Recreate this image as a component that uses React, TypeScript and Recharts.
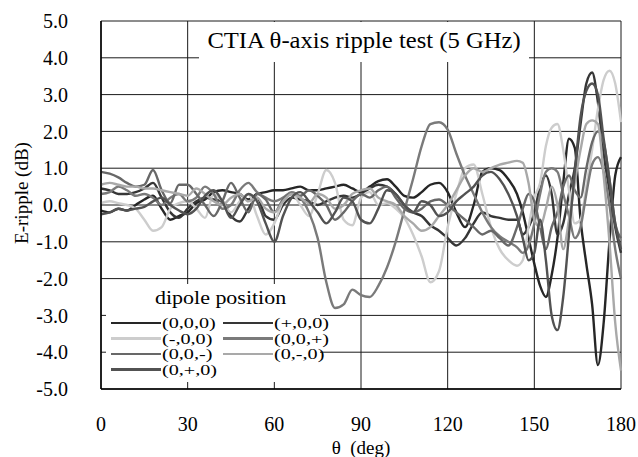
import React from 'react';
import { LineChart, Line, XAxis, YAxis, CartesianGrid } from 'recharts';

// theta samples (deg); denser near 180 where the ripple is sharp
const theta = [
  0, 3, 6, 9, 12, 15, 18, 21, 24, 27, 30, 33, 36, 39, 42, 45, 48, 51, 54, 57,
  60, 63, 66, 69, 72, 75, 78, 81, 84, 87, 90, 93, 96, 99, 102, 105, 108, 111, 114, 117,
  120, 123, 126, 129, 132, 135, 138, 141,
  144, 146, 148, 150, 152, 154, 156, 158, 160, 162, 164, 166, 168, 170, 172, 174, 176, 178, 180,
];

const s000 = [
  -0.15, -0.2, -0.1, -0.15, 0.0, 0.15, 0.25, -0.1, -0.4, -0.3,
  -0.2, 0.05, 0.15, 0.35, 0.4, 0.35, 0.3, 0.15, 0.3, 0.35,
  0.4, 0.4, 0.45, 0.5, 0.4, 0.4, 0.45, 0.5, 0.55, 0.45,
  0.35, 0.5, 0.65, 0.7, 0.5, 0.25, 0.2, 0.35, 0.55, 0.6,
  0.35, -0.2, -0.6, 0.0, 0.9, 1.0, 0.95, 0.7,
  0.3, -0.2, -0.9, -1.6, -2.2, -2.5, -1.9, -0.9, 0.6, 1.8, 1.55, -0.4, -1.6, -2.7, -4.35, -3.2, -1.0, 0.8, 1.3,
];
const sp00 = [
  0.45, 0.4, 0.3, 0.3, 0.35, 0.45, 0.6, 0.2, -0.2, -0.35,
  -0.1, 0.1, 0.2, 0.15, 0.1, -0.3, -0.45, -0.1, 0.2, -0.3,
  -0.4, 0.0, 0.2, 0.15, 0.1, 0.0, 0.1, 0.2, 0.25, 0.2,
  0.3, 0.45, 0.55, 0.5, 0.3, 0.0, -0.2, -0.3, -0.55, -0.7,
  -0.9, -1.1, -0.9, -0.5, -0.2, -0.3, -0.35, -0.4,
  -0.4, -0.8, -0.6, -0.2, 0.5, 0.8, 0.3, -0.8, -0.5, 0.3, 1.0, 2.2, 3.3, 3.6, 2.8, 1.4, 0.4, -0.6, -1.3,
];
const sm00 = [
  0.05, 0.1, 0.05, 0.0, -0.1, -0.4, -0.7, -0.6, -0.1, 0.05,
  0.1, -0.1, -0.35, 0.3, 0.1, -0.2, 0.1, 0.3, -0.3, -0.8,
  -0.5, 0.1, 0.3, 0.0, -0.3, 0.3, 0.95, 0.6, -0.4, -0.55,
  0.2, 0.35, 0.0, 0.05, -0.1, -0.35, -0.8, -1.4, -2.1, -1.8,
  -0.6, 0.3, 1.0, 1.1, 0.3, -0.6, -1.2, -1.5,
  -1.65, -1.5, -0.6, 0.2, 0.6, 1.6, 2.1, 2.2, 1.5, 0.4, -0.5, -0.4, 0.5, 1.5, 2.6, 3.4, 3.65, 3.3, 2.25,
];
const s00p = [
  0.3, 0.35, 0.5, 0.4, 0.25, 0.3, 0.2, 0.0, 0.2, 0.3,
  0.1, 0.2, 0.5, 0.3, -0.1, 0.0, 0.4, 0.6, 0.35, 0.2,
  0.1, 0.2, 0.35, 0.2, -0.2, -0.9, -2.1, -2.8, -2.7, -2.3,
  -2.45, -2.5, -2.2, -1.7, -1.0, -0.15, 0.7, 1.6, 2.2, 2.25,
  2.05, 1.4, 0.8, 0.3, -0.2, -0.6, -0.85, -1.0,
  -1.15, -1.3, -1.1, -0.5, 0.3, 0.9, 1.0, 0.9, 0.3, -0.3, -0.9, -0.6, 0.3, 1.1, 1.3, 0.9, 0.0, -1.2, -2.0,
];
const s00m = [
  0.9, 0.85, 0.75, 0.6, 0.5, 0.55, 0.95, 0.4, 0.05, 0.55,
  0.55, 0.3, 0.0, -0.3, 0.1, 0.6, 0.2, -0.2, 0.3, 0.15,
  -0.2, 0.15, 0.3, 0.25, 0.4, 0.25, 0.0, -0.4, -0.2, 0.1,
  0.3, 0.2, 0.4, 0.5, 0.2, -0.1, -0.2, -0.1, 0.1, 0.15,
  0.0, -0.2, -0.4, -0.6, -0.8, -0.7, -0.9, -1.1,
  -0.6, -0.1, 0.3, 0.1, -0.6, -1.2, -0.6, -0.2, 0.5, 0.8, 0.4, 0.2, 1.0, 1.7, 2.0, 1.7, 0.7, -0.5, -0.9,
];
const s0m0 = [
  0.55, 0.6, 0.55, 0.5, 0.5, 0.45, 0.45, 0.4, 0.35, 0.3,
  0.25, 0.45, 0.3, 0.1, 0.0, 0.2, 0.3, 0.1, 0.2, -0.1,
  -0.2, 0.1, 0.3, 0.2, 0.05, 0.3, 0.2, -0.1, 0.0, 0.3,
  0.4, 0.45, 0.2, 0.1, 0.0, -0.3, -0.5, -0.7, -0.6, -0.3,
  0.0, 0.4, 0.8, 1.0, 0.9, 1.0, 1.1, 1.15,
  1.2, 1.15, 0.6, -0.4, -0.6, -0.1, 0.5, 0.0, -1.2, -0.4, 0.6, 1.5, 2.2, 2.3, 2.2, 0.8, -1.0, -3.2, -4.5,
];
const s0p0 = [
  -0.25, -0.2, -0.1, -0.15, -0.1, -0.05, 0.1, 0.2, 0.0, -0.15,
  -0.25, -0.1, 0.25, 0.4, 0.1, -0.35, 0.0, 0.3, 0.1, -0.5,
  -1.0, -0.3, 0.2, 0.35, 0.1, -0.2, -0.5, -0.2, 0.2, 0.1,
  -0.4, -0.5, -0.1, 0.4, 0.3, 0.0, -0.2, 0.1, 0.0, -0.3,
  -0.2, 0.1, 0.3, 0.5, 0.8, 0.9, 0.7, 0.3,
  -0.3, -0.9, -1.5, -1.3, -0.4, -1.5, -3.0, -3.4, -2.5, -0.8, 0.9, 2.4, 3.1, 3.3, 3.0, 1.8, 0.7, -0.5, -1.2,
];

const xTicks = [0, 30, 60, 90, 120, 150, 180];
const yTicks = [-5, -4, -3, -2, -1, 0, 1, 2, 3, 4, 5];

const series = [
  { key: 's000', label: '(0,0,0)', color: '#262626', values: s000 },
  { key: 'sp00', label: '(+,0,0)', color: '#363636', values: sp00 },
  { key: 'sm00', label: '(-,0,0)', color: '#cdcdcd', values: sm00 },
  { key: 's00p', label: '(0,0,+)', color: '#7a7a7a', values: s00p },
  { key: 's00m', label: '(0,0,-)', color: '#686868', values: s00m },
  { key: 's0m0', label: '(0,-,0)', color: '#a9a9a9', values: s0m0 },
  { key: 's0p0', label: '(0,+,0)', color: '#525252', values: s0p0 },
];

const data = theta.map((t, i) => {
  const row: Record<string, number> = { theta: t };
  series.forEach((s) => { row[s.key] = s.values[i]; });
  return row;
});

const FONT = "'Liberation Serif', 'DejaVu Serif', serif";

function DipoleLegend() {
  return (
    <div
      style={{
        position: 'absolute', left: 106, top: 284, width: 214, height: 98,
        background: '#fff', fontFamily: FONT, color: '#000',
      }}
    >
      <div
        style={{
          position: 'absolute', left: 49, top: 4, fontSize: 18, lineHeight: '20px',
          transform: 'scaleX(1.22)', transformOrigin: 'left center', whiteSpace: 'nowrap',
        }}
      >
        dipole position
      </div>
      {series.map((s, i) => {
        const col = i % 2;
        const row = Math.floor(i / 2);
        const left = col === 0 ? 5 : 117;
        const top = 39 + row * 15.5;
        return (
          <div key={s.key} style={{ position: 'absolute', left, top: top - 7, height: 14, display: 'flex', alignItems: 'center' }}>
            <div style={{ width: 50, height: 2.5, background: s.color }} />
            <span
              style={{
                display: 'inline-block', fontSize: 15.5, lineHeight: '14px', marginLeft: 1,
                transform: 'scaleX(1.3)', transformOrigin: 'left center', whiteSpace: 'nowrap',
              }}
            >
              {s.label}
            </span>
          </div>
        );
      })}
    </div>
  );
}

export default function App() {
  return (
    <div style={{ position: 'absolute', left: 0, top: 0, width: 638, height: 457, background: '#fff' }}>
      <LineChart width={638} height={457} data={data} margin={{ top: 21, right: 17, left: 0, bottom: 18 }}>
        <CartesianGrid stroke="#1a1a1a" strokeWidth={1} />
        <XAxis
          dataKey="theta"
          type="number"
          domain={[0, 180]}
          ticks={xTicks}
          height={50}
          axisLine={{ stroke: '#000', strokeWidth: 1.5 }}
          tickLine={false}
          tickSize={0}
          tickMargin={28}
          tick={{ fill: '#000', fontSize: 20, fontFamily: FONT }}
          label={{
            content: ({ viewBox }: any) => (
              <text
                x={viewBox.x + viewBox.width / 2}
                y={viewBox.y + 65}
                textAnchor="middle"
                fontSize={19}
                fontFamily={FONT}
                fill="#000"
              >
                {'\u03b8\u00a0 (deg)'}
              </text>
            ),
          }}
        />
        <YAxis
          type="number"
          domain={[-5, 5]}
          ticks={yTicks}
          width={101}
          axisLine={{ stroke: '#000', strokeWidth: 1.5 }}
          tickLine={false}
          tickSize={0}
          tickMargin={33}
          tickFormatter={(v: number) => v.toFixed(1)}
          tick={{ fill: '#000', fontSize: 20, fontFamily: FONT }}
          label={{
            content: ({ viewBox }: any) => {
              const cx = 21;
              const cy = viewBox.y + viewBox.height / 2 - 12;
              return (
                <text
                  x={cx}
                  y={cy}
                  transform={`rotate(-90 ${cx} ${cy})`}
                  textAnchor="middle"
                  dominantBaseline="central"
                  fontSize={19}
                  fontFamily={FONT}
                  fill="#000"
                >
                  E-ripple (dB)
                </text>
              );
            },
          }}
        />
        {series.map((s) => (
          <Line
            key={s.key}
            type="monotone"
            dataKey={s.key}
            stroke={s.color}
            strokeWidth={2.4}
            dot={false}
            isAnimationActive={false}
          />
        ))}
      </LineChart>
      <div
        style={{
          position: 'absolute', left: 199, top: 22, width: 330, height: 40,
          background: '#fff', fontFamily: FONT, color: '#000',
        }}
      >
        <div
          style={{
            position: 'absolute', left: 0, width: 330, top: 0, fontSize: 23, lineHeight: '38px',
            textAlign: 'center', transform: 'scaleX(1.07)', transformOrigin: 'center', whiteSpace: 'nowrap',
          }}
        >
          CTIA θ-axis ripple test (5 GHz)
        </div>
      </div>
      <DipoleLegend />
    </div>
  );
}
